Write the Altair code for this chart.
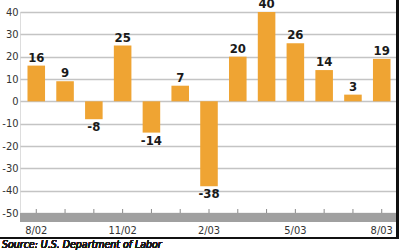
import altair as alt
import pandas as pd

months = ["8/02", "9/02", "10/02", "11/02", "12/02", "1/03", "2/03",
          "3/03", "4/03", "5/03", "6/03", "7/03", "8/03"]
values = [16, 9, -8, 25, -14, 7, -38, 20, 40, 26, 14, 3, 19]
y_ticks = [40, 30, 20, 10, 0, -10, -20, -30, -40, -50]
x_labels = ["8/02", "11/02", "2/03", "5/03", "8/03"]
source = "Source:  U.S. Department of Labor"

FONT = "DejaVu Sans Condensed, Liberation Sans Narrow, Arial Narrow, sans-serif"
W, H = 378, 201

df = pd.DataFrame({"month": months, "value": values})
df["label"] = df["value"].astype(str)

x = alt.X("month:N", sort=months,
          scale=alt.Scale(paddingInner=0.39, paddingOuter=0.26),
          axis=alt.Axis(values=x_labels, title=None, labelAngle=0, ticks=False,
                        domain=False, labelPadding=11, labelFont=FONT,
                        labelFontSize=11, labelColor="#333333", grid=False))
y = alt.Y("value:Q", scale=alt.Scale(domain=[-50, 40], nice=False, zero=False),
          axis=alt.Axis(values=y_ticks, title=None, ticks=False, domain=False,
                        labelPadding=2, grid=True, gridColor="#c4c4c4",
                        gridWidth=1.5, labelFont=FONT, labelFontSize=11,
                        labelColor="#333333", labelOverlap=False,
                        labelBound=False,
                        labelExpr="datum.value < 0 ? '-' + abs(datum.value) : '' + datum.value"))

base = alt.Chart(df)

bars = base.mark_bar(color="#EFA433").encode(x=x, y=y, y2=alt.datum(0))

band = base.mark_rect(color="#a0a0a0").encode(
    x=alt.value(0), x2=alt.value(W + 1), y=alt.value(H), y2=alt.value(H + 9))

ticks = base.mark_rule(color="#8a8a8a", strokeWidth=1).encode(
    x=x, y=alt.value(H - 4), y2=alt.value(H))

pos_labels = base.transform_filter("datum.value >= 0").mark_text(
    baseline="bottom", dy=-1, font=FONT, fontSize=13, fontWeight="bold",
    color="#1a1a1a").encode(x=x, y=y, text="label:N")

neg_labels = base.transform_filter("datum.value < 0").mark_text(
    baseline="top", dy=2, font=FONT, fontSize=13, fontWeight="bold",
    color="#1a1a1a").encode(x=x, y=y, text="label:N")

right_border = base.mark_rule(color="#111111", strokeWidth=2).encode(
    x=alt.value(W - 0.5), y=alt.value(-12), y2=alt.value(227))
bottom_border = base.mark_rule(color="#111111", strokeWidth=2).encode(
    x=alt.value(-20), x2=alt.value(W + 0.5), y=alt.value(226))

src = base.mark_text(align="left", baseline="middle", font=FONT, fontSize=10.5,
                     fontStyle="italic", fontWeight="normal",
                     color="#1a1a1a").encode(
    x=alt.value(-18), y=alt.value(233), text=alt.value(source))

chart = alt.layer(bars, band, ticks, pos_labels, neg_labels, right_border,
                  bottom_border, src).properties(
    width=W, height=H,
    autosize=alt.AutoSizeParams(type="none"),
    padding={"left": 20, "top": 12, "right": 2, "bottom": 37},
).configure_view(stroke=None).configure_axisY(
    labelOverlap=False, labelBound=False
).configure(background="white")

chart.save("out.html", embed_options={"renderer": "svg", "actions": False})
